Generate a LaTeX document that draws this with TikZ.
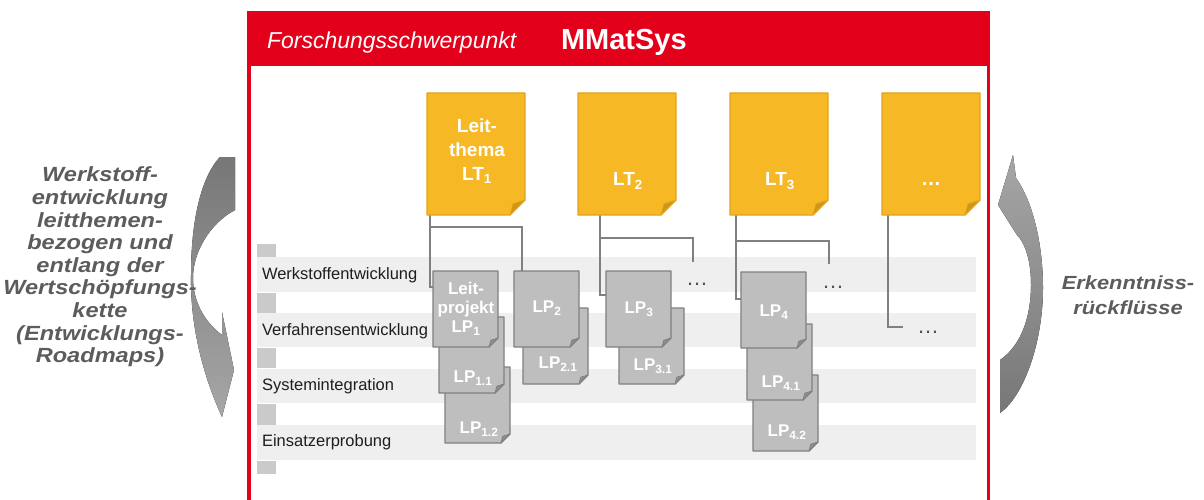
\documentclass[tikz,border=0pt]{standalone}
\usepackage{fontspec}
\setmainfont{Liberation Sans}
\newfontfamily\sidefont[FakeStretch=1.15]{Liberation Sans}
\usetikzlibrary{calc}
\definecolor{mmred}{HTML}{E2001A}
\definecolor{ltyel}{HTML}{F6B824}
\definecolor{ltedge}{HTML}{E2A41C}
\definecolor{ltfold}{HTML}{D0961A}
\definecolor{lpgray}{HTML}{BEBEBE}
\definecolor{lpedge}{HTML}{808080}
\definecolor{lpfold}{HTML}{8E8E8E}
\definecolor{stripe}{HTML}{EFEFEF}
\definecolor{sqc}{HTML}{CACACA}
\definecolor{connc}{HTML}{808080}
\definecolor{sidetxt}{HTML}{5C5C5C}
\definecolor{rowtxt}{HTML}{1E1E1E}
\definecolor{dotc}{HTML}{505050}
\definecolor{arrdark}{HTML}{777777}
\definecolor{arrlight}{HTML}{A6A6A6}
\newcommand{\foldshape}[5]{%
  \filldraw[fill=#2,draw=#3,line width=1.3pt,line join=round] (#1.north west) -- (#1.north east) -- ([yshift=#5pt]#1.south east) -- ([xshift=-#5pt]#1.south east) -- (#1.south west) -- cycle;
  \filldraw[fill=#4,draw=#3,line width=0.8pt,line join=round] ([yshift=#5pt]#1.south east) -- ([xshift=-#5pt]#1.south east) -- ([xshift=-0.8*#5pt,yshift=0.75*#5pt]#1.south east) -- cycle;
}
\begin{document}
\begin{tikzpicture}[x=1pt,y=-1pt,
  every node/.style={inner sep=0pt,outer sep=0pt},
  ltanchor/.style={minimum width=98pt,minimum height=122pt,anchor=north west},
  lpanchor/.style={minimum width=65pt,minimum height=76pt,anchor=north west},
  conn/.style={draw=connc,line width=2pt},
  lttext/.style={text=white,font=\bfseries\fontsize{19}{24}\selectfont,align=center},
  lptext/.style={text=white,font=\bfseries\fontsize{17}{19}\selectfont,align=center},
  rowlabel/.style={anchor=west,font=\fontsize{16.5}{18}\selectfont,text=rowtxt},
  dotsg/.style={anchor=base,font=\fontsize{22}{22}\selectfont,text=dotc},
  sidetext/.style={align=center,text=sidetxt,font=\sidefont\bfseries\itshape\fontsize{20.5}{22.6}\selectfont}]
\useasboundingbox (0,0) rectangle (1204,500);
\fill[white] (0,0) rectangle (1204,500);

% frame
\fill[mmred] (246.5,11) rectangle (990,66);
\fill[mmred] (246.5,11) rectangle (250.5,500);
\fill[mmred] (986.5,11) rectangle (990,500);
\node[anchor=west,text=white,font=\itshape\fontsize{23}{26}\selectfont] (H1) at (267,43) {Forschungsschwerpunkt};
\node[anchor=west,text=white,font=\bfseries\fontsize{29}{32}\selectfont] (H2) at (561,42) {MMatSys};

% stripes
\fill[stripe] (257,257) rectangle (976,292);
\fill[stripe] (257,313) rectangle (976,347);
\fill[stripe] (257,369) rectangle (976,403);
\fill[stripe] (257,425) rectangle (976,460);
\fill[sqc] (257,244) rectangle (276,257);
\fill[sqc] (257,293) rectangle (276,313);
\fill[sqc] (257,348) rectangle (276,368);
\fill[sqc] (257,404) rectangle (276,425);
\fill[sqc] (257,461) rectangle (276,474);

\node[rowlabel] (R1) at (262,275) {Werkstoffentwicklung};
\node[rowlabel] (R2) at (262,331) {Verfahrensentwicklung};
\node[rowlabel] (R3) at (262,386) {Systemintegration};
\node[rowlabel] (R4) at (262,442) {Einsatzerprobung};

% anchor nodes
\node[ltanchor] (LT1) at (427,93) {};
\node[ltanchor] (LT2) at (578,93) {};
\node[ltanchor] (LT3) at (730,93) {};
\node[ltanchor] (LT4) at (882,93) {};
\node[lpanchor] (LP1) at (433,271) {};
\node[lpanchor] (LP11) at (439,317) {};
\node[lpanchor] (LP12) at (445,367) {};
\node[lpanchor] (LP2) at (514,271) {};
\node[lpanchor] (LP21) at (523,308) {};
\node[lpanchor] (LP3) at (606,271) {};
\node[lpanchor] (LP31) at (619,308) {};
\node[lpanchor] (LP4) at (741,272) {};
\node[lpanchor] (LP41) at (747,324) {};
\node[lpanchor] (LP42) at (753,375) {};
\coordinate (e2) at (693,262);
\coordinate (e3) at (829,264);
\coordinate (e4) at (903,327);

% connectors
\draw[conn] ([xshift=3pt]LT1.south west) |- ([yshift=-16pt]LP1.north west);
\draw[conn] ([xshift=3pt,yshift=-12pt]LT1.south west) -| ([xshift=8pt]LP2.north west);
\draw[conn] ([xshift=22pt]LT2.south west) |- ([yshift=-24pt]LP3.north west);
\draw[conn] ([xshift=22pt,yshift=-23pt]LT2.south west) -| (e2);
\draw[conn] ([xshift=6pt]LT3.south west) |- ([yshift=-27pt]LP4.north west);
\draw[conn] ([xshift=6pt,yshift=-26pt]LT3.south west) -| (e3);
\draw[conn] ([xshift=6pt]LT4.south west) |- (e4);

\node[dotsg] (D2) at (697,285) {\dots};
\node[dotsg] (D3) at (833,288) {\dots};
\node[dotsg] (D4) at (928,333) {\dots};

% LP boxes (back to front)
\foldshape{LP12}{lpgray}{lpedge}{lpfold}{9}
\foldshape{LP11}{lpgray}{lpedge}{lpfold}{9}
\foldshape{LP1}{lpgray}{lpedge}{lpfold}{9}
\foldshape{LP21}{lpgray}{lpedge}{lpfold}{9}
\foldshape{LP2}{lpgray}{lpedge}{lpfold}{9}
\foldshape{LP31}{lpgray}{lpedge}{lpfold}{9}
\foldshape{LP3}{lpgray}{lpedge}{lpfold}{9}
\foldshape{LP42}{lpgray}{lpedge}{lpfold}{9}
\foldshape{LP41}{lpgray}{lpedge}{lpfold}{9}
\foldshape{LP4}{lpgray}{lpedge}{lpfold}{9}

% LT boxes
\foldshape{LT1}{ltyel}{ltedge}{ltfold}{15}
\foldshape{LT2}{ltyel}{ltedge}{ltfold}{15}
\foldshape{LT3}{ltyel}{ltedge}{ltfold}{15}
\foldshape{LT4}{ltyel}{ltedge}{ltfold}{15}

% texts
\node[lttext] (LT1t) at (477,151) {Leit-\\thema\\LT\textsubscript{1}};
\node[lttext] (LT2t) at (628,181) {LT\textsubscript{2}};
\node[lttext] (LT3t) at (780,181) {LT\textsubscript{3}};
\node[anchor=base,text=white,font=\bfseries\fontsize{20}{20}\selectfont] (LT4t) at (931,185) {\dots};

\node[lptext] (LP1t) at (466,309) {Leit-\\projekt\\LP\textsubscript{1}};
\node[lptext] (LP11t) at (473,378) {LP\textsubscript{1.1}};
\node[lptext] (LP12t) at (479,429) {LP\textsubscript{1.2}};
\node[lptext] (LP2t) at (547,308) {LP\textsubscript{2}};
\node[lptext] (LP21t) at (558,364) {LP\textsubscript{2.1}};
\node[lptext] (LP3t) at (639,309) {LP\textsubscript{3}};
\node[lptext] (LP31t) at (653,366) {LP\textsubscript{3.1}};
\node[lptext] (LP4t) at (774,312) {LP\textsubscript{4}};
\node[lptext] (LP41t) at (781,383) {LP\textsubscript{4.1}};
\node[lptext] (LP42t) at (787,432) {LP\textsubscript{4.2}};

% side arrows
\fill[top color=arrdark,bottom color=arrlight] (220,157) -- (235,157) -- (235,210)
  .. controls (212,222) and (193,250) .. (193,278)
  .. controls (193,305) and (208,325) .. (222,335)
  -- (222,312) -- (234,370) -- (222,417)
  .. controls (205,380) and (190,330) .. (191,275)
  .. controls (191,215) and (203,175) .. (220,157) -- cycle;
\fill[top color=arrlight,bottom color=arrdark] (1013,155) -- (1016,178)
  .. controls (1035,205) and (1043,250) .. (1043,288)
  .. controls (1043,340) and (1025,395) .. (1000,413)
  -- (1000,360)
  .. controls (1022,345) and (1031,315) .. (1031,285)
  .. controls (1031,260) and (1025,243) .. (1017,235)
  -- (998,205) -- cycle;

\node[sidetext] (LTXT) at (100,267) {Werkstoff-\\entwicklung\\leitthemen-\\bezogen und\\entlang der\\Wertschöpfungs-\\kette\\(Entwicklungs-\\Roadmaps)};
\node[sidetext,font=\sidefont\bfseries\itshape\fontsize{19}{24.5}\selectfont] (RTXT) at (1128,295) {Erkenntniss-\\rückflüsse};
\end{tikzpicture}
\end{document}
